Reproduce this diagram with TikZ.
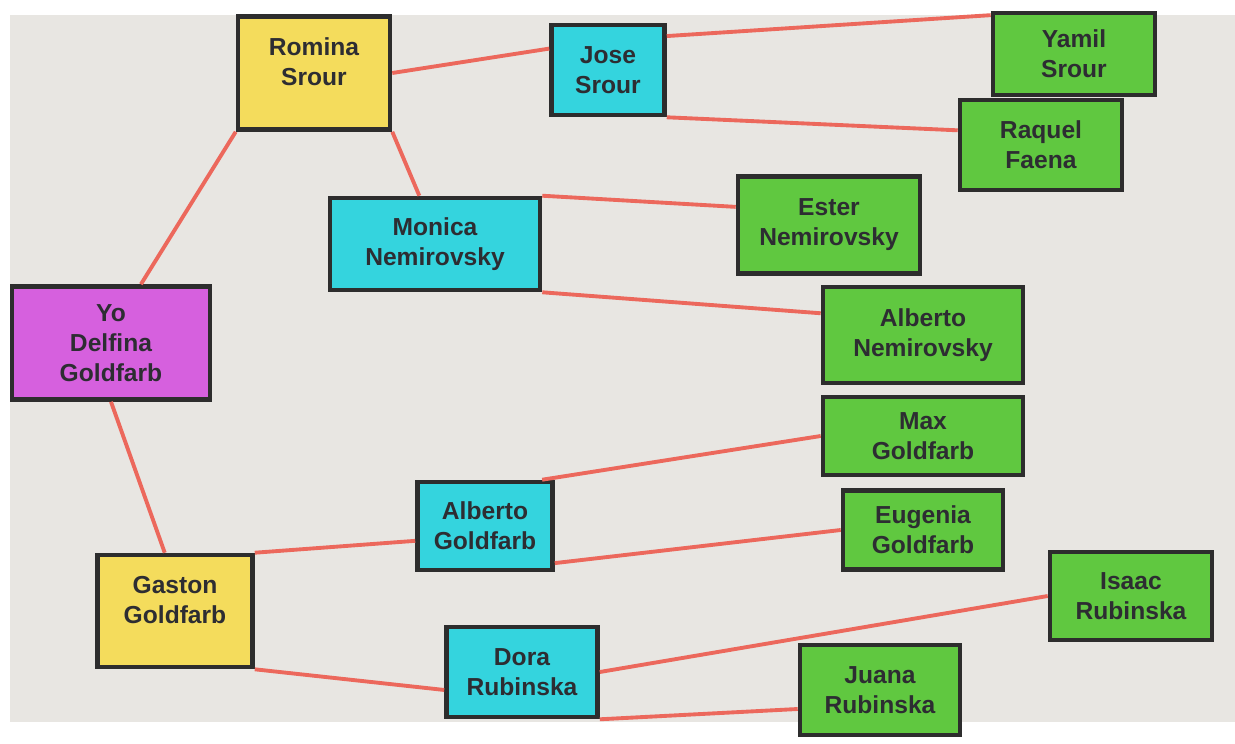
\documentclass[tikz,border=0pt]{standalone}
\usepackage{fontspec}
\setmainfont{Liberation Sans}
\usetikzlibrary{shapes, arrows, positioning}

\definecolor{screen}{RGB}{232,230,226}
\definecolor{boxline}{RGB}{45,45,45}
\definecolor{txt}{RGB}{45,45,50}
\definecolor{linkred}{RGB}{236,104,92}
\definecolor{gold}{RGB}{244,220,92}
\definecolor{aqua}{RGB}{52,212,222}
\definecolor{leaf}{RGB}{96,200,64}
\definecolor{orchid}{RGB}{214,96,222}

\begin{document}
\begin{tikzpicture}[
    person/.style={draw=boxline, line width=2.6pt, rectangle, align=center,
      text=txt, font=\fontsize{14}{17}\selectfont\bfseries},
    parent/.style={person, fill=gold, text depth=0.46cm},
    grand/.style={person, fill=aqua},
    great/.style={person, fill=leaf},
    link/.style={draw=linkred, line width=2.2pt}
  ]
        % Draw the screen
        \fill[white] (0,0) rectangle (24.7,-14.86);
        \fill[screen] (0.2,-0.3) rectangle (24.7,-14.44);
        \useasboundingbox (0,0) rectangle (24.7,-14.86);

        % Draw the blocks
        \node (yo)       [person, fill=orchid, minimum width=3.96cm, minimum height=2.26cm] at (2.22,-6.86) {Yo\\Delfina\\Goldfarb};
        \node (romina)   [parent, minimum width=3.04cm, minimum height=2.26cm] at (6.28,-1.46) {Romina\\Srour};
        \node (gaston)   [parent, minimum width=3.10cm, minimum height=2.24cm] at (3.50,-12.22) {Gaston\\Goldfarb};
        \node (jose)     [grand, minimum width=2.26cm, minimum height=1.80cm] at (12.16,-1.40) {Jose\\Srour};
        \node (monica)   [grand, minimum width=4.20cm, minimum height=1.84cm] at (8.70,-4.88) {Monica\\Nemirovsky};
        \node (albertog) [grand, minimum width=2.70cm, minimum height=1.76cm] at (9.70,-10.52) {Alberto\\Goldfarb};
        \node (dora)     [grand, minimum width=3.02cm, minimum height=1.80cm] at (10.44,-13.44) {Dora\\Rubinska};
        \node (yamil)    [great, minimum width=3.24cm, minimum height=1.64cm] at (21.48,-1.08) {Yamil\\Srour};
        \node (raquel)   [great, minimum width=3.24cm, minimum height=1.80cm] at (20.82,-2.90) {Raquel\\Faena};
        \node (ester)    [great, minimum width=3.64cm, minimum height=1.94cm] at (16.58,-4.50) {Ester\\Nemirovsky};
        \node (alberton) [great, minimum width=4.00cm, minimum height=1.92cm] at (18.46,-6.70) {Alberto\\Nemirovsky};
        \node (max)      [great, minimum width=4.00cm, minimum height=1.56cm] at (18.46,-8.72) {Max\\Goldfarb};
        \node (eugenia)  [great, minimum width=3.20cm, minimum height=1.58cm] at (18.46,-10.60) {Eugenia\\Goldfarb};
        \node (isaac)    [great, minimum width=3.24cm, minimum height=1.76cm] at (22.62,-11.92) {Isaac\\Rubinska};
        \node (juana)    [great, minimum width=3.20cm, minimum height=1.80cm] at (17.60,-13.80) {Juana\\Rubinska};

        % Draw the connecting lines
        \draw [link] (romina.south west) -- (yo.63);
        \draw [link] (yo.south) -- (gaston.100);
        \draw [link] (romina.east) -- (jose.160);
        \draw [link] (romina.south east) -- (monica.108);
        \draw [link] (jose.30) -- (yamil.155);
        \draw [link] (jose.south east) -- (raquel.170);
        \draw [link] (monica.north east) -- (ester.169);
        \draw [link] (monica.south east) -- (alberton.168);
        \draw [link] (gaston.north east) -- (albertog.192);
        \draw [link] (gaston.south east) -- (dora.193);
        \draw [link] (albertog.39) -- (max.west);
        \draw [link] (albertog.332) -- (eugenia.west);
        \draw [link] (dora.east) -- (isaac.west);
        \draw [link] (dora.south east) -- (juana.193);
    \end{tikzpicture}
\end{document}
